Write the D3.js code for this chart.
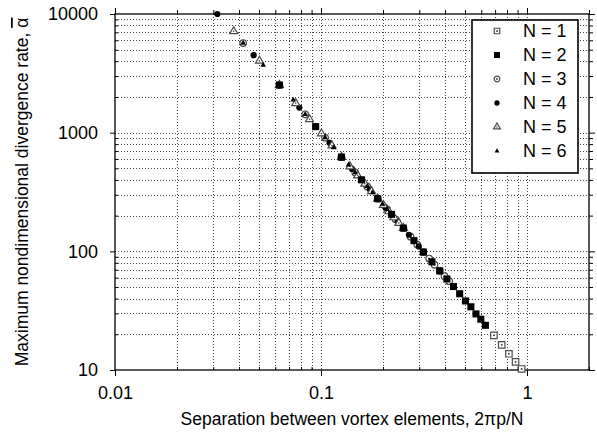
<!DOCTYPE html>
<html>
<head>
<meta charset="utf-8">
<script src="https://cdn.jsdelivr.net/npm/d3@7"></script>
<style>
  html, body { margin: 0; padding: 0; background: #fff; }
  svg { display: block; font-family: "Liberation Sans", Arial, sans-serif; }
</style>
</head>
<body>
<svg id="chart" width="597" height="438"></svg>
<script>
// Separation between vortex elements (2πp/N) and maximum nondimensional
// divergence rate, one pair of arrays per ring size N.
const sepN1   = [0.691, 0.754, 0.817, 0.880, 0.942];
const alphaN1 = [19.6, 16.3, 13.7, 11.7, 10.2];

const sepN2   = [0.0628, 0.0942, 0.1257, 0.1571, 0.1885, 0.2199, 0.2513, 0.2827, 0.3142, 0.3456,
                 0.3770, 0.4084, 0.4398, 0.4712, 0.5027, 0.5341, 0.5655, 0.5969, 0.6283];
const alphaN2 = [2520, 1124, 622, 401, 278, 205, 157, 123, 98.6, 81.6,
                 68.5, 58.5, 50.5, 43.9, 38.2, 34.1, 29.7, 26.8, 23.8];

const sepN3   = [0.0419, 0.0628, 0.0838, 0.1047, 0.1257, 0.1466, 0.1676, 0.1885, 0.2094, 0.2304,
                 0.2513, 0.2723, 0.2932, 0.3142, 0.3351, 0.3560, 0.3770, 0.3979, 0.4189];
const alphaN3 = [5690, 2520, 1428, 908, 622, 461, 352, 278, 226, 186,
                 157, 133, 114, 98.6, 86.9, 77.0, 68.5, 61.7, 56.0];

const sepN4   = [0.0314, 0.0471, 0.0628, 0.0785, 0.0942, 0.1100, 0.1257, 0.1414, 0.1571, 0.1728,
                 0.1885, 0.2042, 0.2199, 0.2356, 0.2513, 0.2670, 0.2827, 0.2985, 0.3142];
const alphaN4 = [10000, 4500, 2520, 1626, 1124, 822, 622, 495, 401, 332,
                 278, 237, 205, 178, 157, 138, 123, 110, 98.6];

const sepN5   = [0.0377, 0.0503, 0.0628, 0.0754, 0.0880, 0.1005, 0.1131, 0.1257, 0.1382, 0.1508,
                 0.1634, 0.1759, 0.1885, 0.2011, 0.2136, 0.2262, 0.2388, 0.2513];
const alphaN5 = [7140, 4025, 2520, 1770, 1294, 982, 778, 622, 518, 435,
                 371, 320, 278, 245, 217, 193, 173, 157];

const sepN6   = [0.0419, 0.0524, 0.0628, 0.0733, 0.0838, 0.0942, 0.1047, 0.1152, 0.1257, 0.1361,
                 0.1466, 0.1571, 0.1676, 0.1780, 0.1885, 0.1990, 0.2094];
const alphaN6 = [5690, 3705, 2520, 1888, 1428, 1124, 908, 750, 622, 535,
                 461, 401, 352, 312, 278, 250, 226];

const seriesLabels = ["N = 1", "N = 2", "N = 3", "N = 4", "N = 5", "N = 6"];
const xTickLabels = [0.01, 0.1, 1];
const yTickLabels = [10, 100, 1000, 10000];
const xTitle = "Separation between vortex elements, 2\u03C0p/N";
const yTitle = "Maximum nondimensional divergence rate, ";

const series = [
  { label: seriesLabels[0], kind: "openSquare",   sep: sepN1, alpha: alphaN1 },
  { label: seriesLabels[1], kind: "fillSquare",   sep: sepN2, alpha: alphaN2 },
  { label: seriesLabels[2], kind: "openCircle",   sep: sepN3, alpha: alphaN3 },
  { label: seriesLabels[3], kind: "fillCircle",   sep: sepN4, alpha: alphaN4 },
  { label: seriesLabels[4], kind: "openTriangle", sep: sepN5, alpha: alphaN5 },
  { label: seriesLabels[5], kind: "fillTriangle", sep: sepN6, alpha: alphaN6 }
];

const W = 597, H = 438;
const plotL = 115, plotR = 589, plotT = 14, plotB = 370;

const x = d3.scaleLog().domain([0.01, 2]).range([plotL, plotR]);
const y = d3.scaleLog().domain([10, 10000]).range([plotB, plotT]);

const svg = d3.select("#chart");
svg.append("rect").attr("width", W).attr("height", H).attr("fill", "#fff");

// Dotted grid at every decade subdivision
const xGrid = x.ticks().filter(d => x(d) > plotL + 1 && x(d) < plotR - 1);
const yGrid = y.ticks().filter(d => y(d) > plotT + 1 && y(d) < plotB - 1);

const grid = svg.append("g").attr("stroke", "#444").attr("stroke-width", 1)
  .attr("stroke-dasharray", "1,2").attr("shape-rendering", "crispEdges");
grid.selectAll("line.vx").data(xGrid).join("line").attr("class", "vx")
  .attr("x1", d => Math.round(x(d)) + 0.5).attr("x2", d => Math.round(x(d)) + 0.5)
  .attr("y1", plotT).attr("y2", plotB);
grid.selectAll("line.hy").data(yGrid).join("line").attr("class", "hy")
  .attr("y1", d => Math.round(y(d)) + 0.5).attr("y2", d => Math.round(y(d)) + 0.5)
  .attr("x1", plotL).attr("x2", plotR);

// Axes: major ticks outward with labels, minor ticks
const xMinor = x.ticks().filter(d => !xTickLabels.includes(d));
const yMinor = y.ticks().filter(d => !yTickLabels.includes(d));

function styleAxis(g) {
  g.select(".domain").remove();
  g.selectAll("line").attr("stroke", "#000").attr("stroke-width", 1);
  g.selectAll("text").attr("font-size", 18).attr("fill", "#000")
    .attr("font-family", "'Liberation Sans', Arial, sans-serif");
}

svg.append("g").attr("transform", `translate(0,${plotB})`)
  .call(d3.axisBottom(x).tickValues(xTickLabels).tickFormat(d => String(d)).tickSize(6).tickPadding(10))
  .call(styleAxis);
svg.append("g").attr("transform", `translate(0,${plotB})`)
  .call(d3.axisBottom(x).tickValues(xMinor).tickFormat("").tickSize(-3))
  .call(styleAxis);

svg.append("g").attr("transform", `translate(${plotL},0)`)
  .call(d3.axisLeft(y).tickValues(yTickLabels).tickFormat(d => String(d)).tickSize(5).tickPadding(12))
  .call(styleAxis);
svg.append("g").attr("transform", `translate(${plotL},0)`)
  .call(d3.axisLeft(y).tickValues(yMinor).tickFormat("").tickSize(-3))
  .call(styleAxis);

svg.append("g").attr("transform", `translate(0,${plotT})`)
  .call(d3.axisTop(x).tickValues(xTickLabels).tickFormat("").tickSize(6))
  .call(styleAxis);
svg.append("g").attr("transform", `translate(0,${plotT})`)
  .call(d3.axisTop(x).tickValues(xMinor).tickFormat("").tickSize(4))
  .call(styleAxis);

svg.append("g").attr("transform", `translate(${plotR},0)`)
  .call(d3.axisRight(y).tickValues(yTickLabels).tickFormat("").tickSize(6))
  .call(styleAxis);
svg.append("g").attr("transform", `translate(${plotR},0)`)
  .call(d3.axisRight(y).tickValues(yMinor).tickFormat("").tickSize(4))
  .call(styleAxis);

// Plot frame
svg.append("rect")
  .attr("x", plotL).attr("y", plotT).attr("width", plotR - plotL).attr("height", plotB - plotT)
  .attr("fill", "none").attr("stroke", "#000").attr("stroke-width", 1.3);

// Marker drawing
function drawMarker(g, kind, k) {
  const s = k || 1;
  const grey = "#4a4a4a";
  if (kind === "openSquare") {
    g.append("path").attr("d", d3.symbol(d3.symbolSquare, 42 * s * s)())
      .attr("fill", "#fff").attr("stroke", grey).attr("stroke-width", 1.2);
    g.append("circle").attr("r", 1).attr("fill", grey);
  } else if (kind === "fillSquare") {
    g.append("path").attr("d", d3.symbol(d3.symbolSquare, 50 * s * s)()).attr("fill", "#000");
  } else if (kind === "openCircle") {
    g.append("circle").attr("r", 3.3 * s)
      .attr("fill", "#fff").attr("stroke", grey).attr("stroke-width", 1.2);
    g.append("circle").attr("r", 1).attr("fill", grey);
  } else if (kind === "fillCircle") {
    g.append("circle").attr("r", 3.1 * s).attr("fill", "#000");
  } else if (kind === "openTriangle") {
    g.append("path").attr("d", d3.symbol(d3.symbolTriangle, 28 * s * s)())
      .attr("fill", "#fff").attr("stroke", grey).attr("stroke-width", 1.2);
    g.append("circle").attr("r", 0.8).attr("fill", grey);
  } else if (kind === "fillTriangle") {
    g.append("path").attr("d", d3.symbol(d3.symbolTriangle, 14 * s * s)()).attr("fill", "#000");
  }
}

// Points; the filled squares of N = 2 sit on top of the coincident points
const drawOrder = [0, 2, 3, 4, 5, 1];
const pts = svg.append("g");
drawOrder.forEach(i => {
  const sr = series[i];
  const data = sr.sep.map((s, j) => ({ s, a: sr.alpha[j] }));
  pts.append("g").selectAll("g").data(data).join("g")
    .attr("transform", d => `translate(${x(d.s)},${y(d.a)})`)
    .each(function () { drawMarker(d3.select(this), sr.kind, 1); });
});

// Legend
const lg = svg.append("g");
lg.append("rect").attr("x", 472).attr("y", 20).attr("width", 106).attr("height", 153)
  .attr("fill", "#fff").attr("stroke", "#000").attr("stroke-width", 1.6);
series.forEach((sr, i) => {
  const cy = 31 + i * 24;
  const m = lg.append("g").attr("transform", `translate(497,${cy})`);
  drawMarker(m, sr.kind, 0.85);
  lg.append("text").attr("x", 523).attr("y", cy).attr("dy", "0.36em")
    .attr("font-size", 18).attr("fill", "#000").text(sr.label);
});

// Axis titles
svg.append("text").attr("x", (plotL + plotR) / 2).attr("y", 425)
  .attr("text-anchor", "middle").attr("font-size", 17.5).attr("fill", "#000").text(xTitle);

const yt = svg.append("text")
  .attr("transform", `translate(28,${(plotT + plotB) / 2}) rotate(-90)`)
  .attr("text-anchor", "middle").attr("font-size", 17.5).attr("fill", "#000");
yt.append("tspan").text(yTitle);
yt.append("tspan").attr("text-decoration", "overline").style("text-decoration", "overline").text("\u03B1");
</script>
</body>
</html>
